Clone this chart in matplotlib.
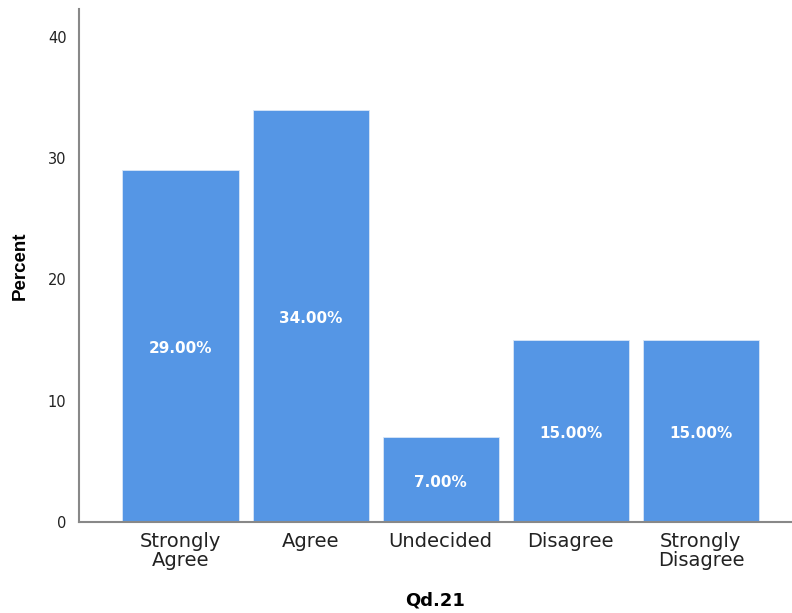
import matplotlib.pyplot as plt
from matplotlib import font_manager

# response categories and their percentages
categories = ['Strongly\nAgree', 'Agree', 'Undecided', 'Disagree', 'Strongly\nDisagree']
percents = [29.0, 34.0, 7.0, 15.0, 15.0]

plt.rcParams['font.family'] = ['DejaVu Sans']

# narrow bold for the y axis title if we have it
names = {f.name for f in font_manager.fontManager.ttflist}
if 'Liberation Sans Narrow' in names:
    ylab_font, ylab_size = 'Liberation Sans Narrow', 16
else:
    ylab_font, ylab_size = 'Liberation Sans', 13.5

fig = plt.figure(figsize=(7.92, 6.13), dpi=100)
ax = fig.add_axes([0.0998, 0.1485, 0.9002, 0.8368])

x = range(len(categories))
bars = ax.bar(x, percents, width=0.892, color='#5596e5', edgecolor='#d8e6f7', linewidth=0.6)

# labels in the middle of each bar
for rect, val in zip(bars, percents):
    ax.annotate(f'{val:.2f}%', (rect.get_x() + rect.get_width() / 2, val / 2),
                xytext=(0, -2), textcoords='offset points',
                ha='center', va='center', color='white', fontsize=11, fontweight='bold')

ax.set_xlim(-0.78, 4.70)
ax.set_ylim(0, 42.3)
ax.set_yticks([0, 10, 20, 30, 40])
ax.set_xticks(list(x))
ax.set_xticklabels(categories, fontsize=14, linespacing=1.0, color='#222222')
for lab in ax.get_yticklabels():
    lab.set_color('#222222')
ax.tick_params(axis='x', length=0, pad=7)
ax.tick_params(axis='y', length=0, pad=9, labelsize=10.5)

for side in ['top', 'right']:
    ax.spines[side].set_visible(False)
for side in ['left', 'bottom']:
    ax.spines[side].set_color('#888888')
    ax.spines[side].set_linewidth(1.5)

ax.set_ylabel('Percent', fontsize=ylab_size, fontweight='bold', family=ylab_font, labelpad=14)
ax.set_xlabel('Qd.21', fontsize=13, fontweight='bold', labelpad=16)

plt.savefig('out.png', dpi=100)
